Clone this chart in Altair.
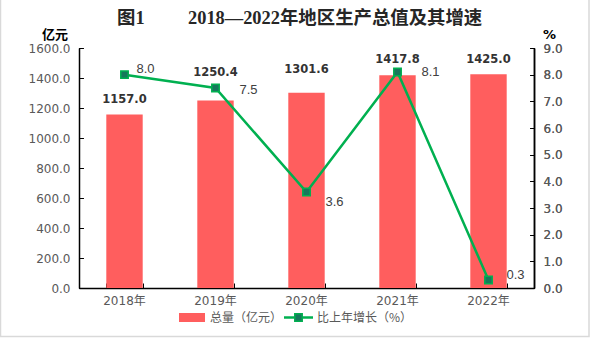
import altair as alt
import pandas as pd

years = ["2018年", "2019年", "2020年", "2021年", "2022年"]
gdp = [1157.0, 1250.4, 1301.6, 1417.8, 1425.0]
growth = [8.0, 7.5, 3.6, 8.1, 0.3]
left_ticks = [0, 200, 400, 600, 800, 1000, 1200, 1400, 1600]
right_ticks = [0, 1, 2, 3, 4, 5, 6, 7, 8, 9]

# label nudges (pixels) as placed in the reference
bar_label_dy = [-14, -27, -23, -15, -14]
growth_label_dx = [12, 24, 19, 24, 18]
growth_label_dy = [-6, 2, 10, 0, -5]

title_fig = "图1"
title_main = "2018—2022年地区生产总值及其增速"
unit_left = "亿元"
unit_right = "%"
legend_bar = "总量（亿元）"
legend_line = "比上年增长（%）"

W, H = 455, 240
BAR = "#FF5E5E"
GREEN = "#00B050"
MARK_FILL = "#17785C"
LABEL = "#595959"
AXIS_FONT = "DejaVu Sans, Noto Sans CJK SC"

df = pd.DataFrame({"year": years, "gdp": gdp, "growth": growth})
one = pd.DataFrame({"a": [0]})

xscale = alt.Scale(paddingInner=0.6, paddingOuter=0.3)
x_bottom = alt.X("year:N", sort=years, scale=xscale,
                 axis=alt.Axis(orient="bottom", title=None, labelAngle=0, ticks=False,
                               domain=True, domainColor="#000000", domainWidth=1.5,
                               labelColor=LABEL, labelFont=AXIS_FONT, labelFontSize=12,
                               labelPadding=7, grid=False))
x_top = alt.X("year:N", sort=years, scale=xscale,
              axis=alt.Axis(orient="top", offset=-H, title=None, labels=False, domain=False,
                            ticks=True, tickBand="extent", tickSize=5, tickColor="#000000",
                            tickWidth=1, grid=False))

yl_scale = alt.Scale(domain=[0, 1600], nice=False, zero=True)
y_left = alt.Y("gdp:Q", scale=yl_scale,
               axis=alt.Axis(orient="left", values=left_ticks, format=".1f", title=None,
                             grid=False, ticks=False, domain=True, domainColor="#000000",
                             domainWidth=1.5, labelPadding=9, labelColor=LABEL,
                             labelFont=AXIS_FONT, labelFontSize=12))
y_left_ticks = alt.Y("gdp:Q", scale=yl_scale,
                     axis=alt.Axis(orient="right", offset=-W, values=left_ticks, labels=False,
                                   domain=False, grid=False, ticks=True, tickSize=4,
                                   tickColor="#000000", tickWidth=1, title=None))

yr_scale = alt.Scale(domain=[0, 9], nice=False, zero=True)
y_right = alt.Y("growth:Q", scale=yr_scale,
                axis=alt.Axis(orient="right", values=right_ticks, format=".1f", title=None,
                              grid=False, ticks=False, domain=True, domainColor="#000000",
                              domainWidth=1.5, labelPadding=9, labelColor=LABEL,
                              labelFont=AXIS_FONT, labelFontSize=12))
y_right_ticks = alt.Y("growth:Q", scale=yr_scale,
                      axis=alt.Axis(orient="left", offset=-W, values=right_ticks, labels=False,
                                    domain=False, grid=False, ticks=True, tickSize=4,
                                    tickColor="#000000", tickWidth=1, title=None))

base = alt.Chart(df)

bars = base.mark_bar(color=BAR).encode(x=x_bottom, y=y_left)
bar_texts = [
    base.transform_filter(alt.datum.year == yr).mark_text(
        baseline="middle", dy=bdy, fontWeight="bold", fontSize=11.5,
        font="DejaVu Sans", color="#333333").encode(
        x=x_bottom, y=y_left_ticks, text=alt.Text("gdp:Q", format=".1f"))
    for yr, bdy in zip(years, bar_label_dy)
]
bar_group = alt.layer(bars, *bar_texts).resolve_axis(y="independent")

line = base.mark_line(color=GREEN, strokeWidth=2.5).encode(x=x_top, y=y_right)
pts = base.mark_point(shape="square", filled=True, size=55, fill=MARK_FILL, stroke=GREEN,
                      strokeWidth=1.5, opacity=1).encode(x=x_top, y=y_right)
line_texts = [
    base.transform_filter(alt.datum.year == yr).mark_text(
        align="left", baseline="middle", dx=gdx, dy=gdy, fontSize=13,
        font="Liberation Sans", color="#404040").encode(
        x=x_top, y=y_right_ticks, text=alt.Text("growth:Q", format=".1f"))
    for yr, gdx, gdy in zip(years, growth_label_dx, growth_label_dy)
]
line_group = alt.layer(line, pts, *line_texts).resolve_axis(y="independent")

deco = alt.Chart(one)
frame = deco.mark_rect(fillOpacity=0, stroke="#D9D9D9", strokeWidth=1.5).encode(
    x=alt.value(-78.5), x2=alt.value(510), y=alt.value(-60), y2=alt.value(288.5))
t1 = deco.mark_text(align="left", baseline="alphabetic", fontSize=18.4, fontWeight="bold",
                    font="Liberation Serif, Noto Sans CJK SC", color="#262626").encode(
    x=alt.value(38), y=alt.value(-24), text=alt.value(title_fig))
t2 = deco.mark_text(align="left", baseline="alphabetic", fontSize=18.4, fontWeight="bold",
                    font="Liberation Serif, Noto Sans CJK SC", color="#262626").encode(
    x=alt.value(109), y=alt.value(-24), text=alt.value(title_main))
u1 = deco.mark_text(align="center", baseline="middle", fontSize=13, fontWeight="bold",
                    font="Noto Sans CJK SC", color="#000000").encode(
    x=alt.value(-24), y=alt.value(-13), text=alt.value(unit_left))
u2 = deco.mark_text(align="center", baseline="middle", fontSize=13, fontWeight="bold",
                    font="DejaVu Sans", color="#000000").encode(
    x=alt.value(470.5), y=alt.value(-13), text=alt.value(unit_right))
leg_rect = deco.mark_rect(color=BAR).encode(
    x=alt.value(100), x2=alt.value(126), y=alt.value(265), y2=alt.value(274))
leg_t1 = deco.mark_text(align="left", baseline="middle", fontSize=12,
                        font="Noto Sans CJK SC", color=LABEL).encode(
    x=alt.value(131), y=alt.value(269.5), text=alt.value(legend_bar))
leg_line = deco.mark_rule(color=GREEN, strokeWidth=2.5).encode(
    x=alt.value(205), x2=alt.value(234), y=alt.value(269.5))
leg_pt = deco.mark_point(shape="square", filled=True, size=55, fill=MARK_FILL, stroke=GREEN,
                         strokeWidth=1.5, opacity=1).encode(
    x=alt.value(219.5), y=alt.value(269.5))
leg_t2 = deco.mark_text(align="left", baseline="middle", fontSize=12,
                        font="Noto Sans CJK SC", color=LABEL).encode(
    x=alt.value(238), y=alt.value(269.5), text=alt.value(legend_line))

chart = alt.layer(
    frame, bar_group, line_group, t1, t2, u1, u2, leg_rect, leg_t1, leg_line, leg_pt, leg_t2
).resolve_scale(y="independent").resolve_axis(x="independent").properties(
    width=W, height=H,
    padding={"left": 79, "top": 48, "right": 58, "bottom": 50},
    autosize=alt.AutoSizeParams(type="none"),
    background="white",
).configure_view(stroke=None)

chart.save("out.html", embed_options={"renderer": "svg", "actions": False})
